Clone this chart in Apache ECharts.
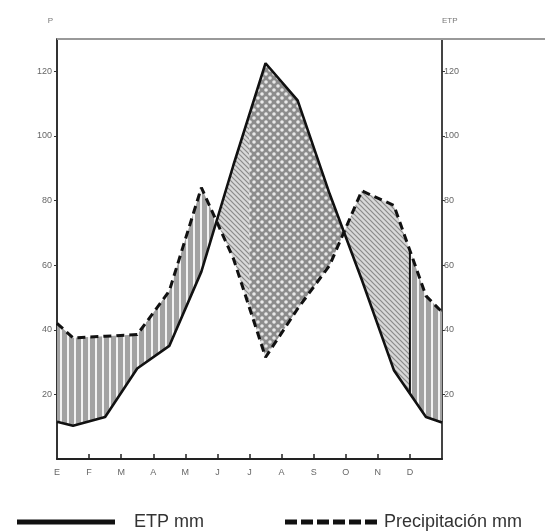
<!DOCTYPE html>
<html>
<head>
<meta charset="utf-8">
<script src="https://cdn.jsdelivr.net/npm/echarts@6/dist/echarts.min.js"></script>
<style>
  html, body { margin: 0; padding: 0; background: #fff; }
  #chart { width: 549px; height: 532px; }
</style>
</head>
<body>
<div id="chart"></div>
<script>
// months on the x axis (label sits at the start of each month)
const months = ['E', 'F', 'M', 'A', 'M', 'J', 'J', 'A', 'S', 'O', 'N', 'D'];
// monthly values are plotted mid-month, plus the two year-edge points
const pointX = [0, 0.5, 1.5, 2.5, 3.5, 4.5, 5.5, 6.5, 7.5, 8.5, 9.5, 10.5, 11.5, 12];
const etp    = [11.5, 10.3, 13, 28, 35, 58, 91, 122.5, 111, 82, 55.5, 27.5, 13, 11.3];
const precip = [42, 37.5, 38, 38.5, 52, 84, 62, 31.5, 46.5, 60, 83, 78.5, 50.5, 45.5];
// where the hatching changes without a crossing of the curves (J and D)
const hatchBreaks = [6, 11];
const regionKinds = ['vertical', 'diagonal', 'dotted', 'diagonal', 'vertical'];
const yTicks = [20, 40, 60, 80, 100, 120];
const xTicks = [1, 2, 3, 4, 5, 6, 7, 8, 9, 10, 11];

function interp(arr, x) {
  for (let i = 0; i < pointX.length - 1; i++) {
    if (x >= pointX[i] && x <= pointX[i + 1]) {
      const t = (x - pointX[i]) / (pointX[i + 1] - pointX[i]);
      return arr[i] + t * (arr[i + 1] - arr[i]);
    }
  }
  return arr[arr.length - 1];
}

// crossings of P and ETP
function crossings() {
  const out = [];
  for (let i = 0; i < pointX.length - 1; i++) {
    const d0 = precip[i] - etp[i], d1 = precip[i + 1] - etp[i + 1];
    if (d0 * d1 < 0) out.push(pointX[i] + (d0 / (d0 - d1)) * (pointX[i + 1] - pointX[i]));
  }
  return out;
}
const edges = [pointX[0], ...crossings(), ...hatchBreaks, pointX[pointX.length - 1]].sort((a, b) => a - b);

function makePattern(kind) {
  const c = document.createElement('canvas');
  const ctx = c.getContext('2d');
  if (kind === 'vertical') {
    c.width = 7; c.height = 7;
    ctx.fillStyle = '#a2a2a2'; ctx.fillRect(0, 0, 7, 7);
    ctx.fillStyle = '#f2f2f2'; ctx.fillRect(4, 0, 2, 7);
  } else if (kind === 'diagonal') {
    c.width = 5; c.height = 5;
    ctx.fillStyle = '#d8d8d8'; ctx.fillRect(0, 0, 5, 5);
    ctx.strokeStyle = '#8a8a8a'; ctx.lineWidth = 1.2;
    ctx.beginPath();
    ctx.moveTo(-1, -1); ctx.lineTo(6, 6);
    ctx.moveTo(-1, 4); ctx.lineTo(1, 6);
    ctx.moveTo(4, -1); ctx.lineTo(6, 1);
    ctx.stroke();
  } else {
    c.width = 8; c.height = 8;
    ctx.fillStyle = '#8c8c8c'; ctx.fillRect(0, 0, 8, 8);
    ctx.fillStyle = '#e8e8e8';
    const dots = [[2, 2], [6, 6], [6, -2], [-2, 6], [10, 6], [6, 10], [-2, -2], [10, 10], [2, 10], [10, 2]];
    dots.forEach(d => { ctx.beginPath(); ctx.arc(d[0], d[1], 1.8, 0, Math.PI * 2); ctx.fill(); });
  }
  return { image: c, repeat: 'repeat' };
}
const patterns = {
  vertical: makePattern('vertical'),
  diagonal: makePattern('diagonal'),
  dotted: makePattern('dotted')
};

const chart = echarts.init(document.getElementById('chart'), null, { renderer: 'canvas' });

const labelStyle = { color: '#666', fontSize: 9, fontFamily: 'Liberation Sans' };
const dashIcon = 'path://M0,0h12v5h-12z M16,0h12v5h-12z M32,0h12v5h-12z M48,0h12v5h-12z M64,0h12v5h-12z M80,0h12v5h-12z';

chart.setOption({
  animation: false,
  backgroundColor: '#fff',
  grid: { left: 57, right: 107, top: 39, bottom: 73 },
  xAxis: {
    type: 'value', min: 0, max: 12, interval: 1,
    axisLine: { lineStyle: { color: '#222', width: 2 } },
    axisTick: { inside: true, length: 5, customValues: xTicks, lineStyle: { color: '#222', width: 1.5 } },
    axisLabel: Object.assign({ margin: 9, formatter: v => months[v] || '' }, labelStyle),
    splitLine: { show: false }
  },
  yAxis: [
    {
      type: 'value', min: 0, max: 130, interval: 20, position: 'left',
      name: 'P', nameGap: 14, nameTextStyle: { color: '#777', fontSize: 8, align: 'right', padding: [0, 4, 0, 0] },
      axisLine: { show: true, lineStyle: { color: '#333', width: 2 } },
      axisTick: { show: true, length: 3, customValues: yTicks, lineStyle: { color: '#333' } },
      axisLabel: Object.assign({ margin: 5, customValues: yTicks }, labelStyle),
      splitLine: { show: false }
    },
    {
      type: 'value', min: 0, max: 130, interval: 20, position: 'right',
      name: 'ETP', nameGap: 14, nameTextStyle: { color: '#777', fontSize: 8, align: 'left' },
      axisLine: { show: true, lineStyle: { color: '#444', width: 2 } },
      axisTick: { show: true, length: 3, customValues: yTicks, lineStyle: { color: '#333' } },
      axisLabel: Object.assign({ margin: 2, customValues: yTicks }, labelStyle),
      splitLine: { show: false }
    }
  ],
  legend: [
    {
      data: [{ name: 'ETP mm', icon: 'rect' }], left: 12, top: 508, itemWidth: 98, itemHeight: 5,
      textStyle: { fontSize: 18, color: '#333', fontFamily: 'Liberation Sans', padding: [0, 0, 0, 14] }
    },
    {
      data: [{ name: 'Precipitación mm', icon: dashIcon }], left: 280, top: 508, itemWidth: 94, itemHeight: 5,
      textStyle: { fontSize: 18, color: '#333', fontFamily: 'Liberation Sans', padding: [0, 0, 0, 1] }
    }
  ],
  graphic: [
    { type: 'line', shape: { x1: 57, y1: 39, x2: 545, y2: 39 }, style: { stroke: '#999', lineWidth: 2 }, z: 10 }
  ],
  series: [
    {
      type: 'custom', name: 'zones', coordinateSystem: 'cartesian2d', z: 1, silent: true,
      data: regionKinds.map((k, i) => [edges[i], 0]),
      renderItem: (params, api) => {
        const a = edges[params.dataIndex], b = edges[params.dataIndex + 1];
        const xs = [a, ...pointX.filter(x => x > a && x < b), b];
        const top = xs.map(x => api.coord([x, Math.max(interp(precip, x), interp(etp, x))]));
        const bottom = xs.map(x => api.coord([x, Math.min(interp(precip, x), interp(etp, x))])).reverse();
        return {
          type: 'polygon',
          shape: { points: top.concat(bottom) },
          style: { fill: patterns[regionKinds[params.dataIndex]], stroke: null }
        };
      }
    },
    {
      type: 'custom', name: 'divider', coordinateSystem: 'cartesian2d', z: 2, silent: true,
      data: [[hatchBreaks[1], 0]],
      renderItem: (params, api) => {
        const x = hatchBreaks[1];
        const p1 = api.coord([x, interp(etp, x)]);
        const p2 = api.coord([x, interp(precip, x)]);
        return { type: 'line', shape: { x1: p1[0], y1: p1[1], x2: p2[0], y2: p2[1] }, style: { stroke: '#111', lineWidth: 2 } };
      }
    },
    {
      type: 'line', name: 'ETP mm', z: 3, symbol: 'none',
      data: pointX.map((x, i) => [x, etp[i]]),
      lineStyle: { color: '#111', width: 2.6 },
      itemStyle: { color: '#111' }
    },
    {
      type: 'line', name: 'Precipitación mm', z: 3, symbol: 'none',
      data: pointX.map((x, i) => [x, precip[i]]),
      lineStyle: { color: '#111', width: 3, type: [8, 5] },
      itemStyle: { color: '#111' }
    }
  ]
});
</script>
</body>
</html>
